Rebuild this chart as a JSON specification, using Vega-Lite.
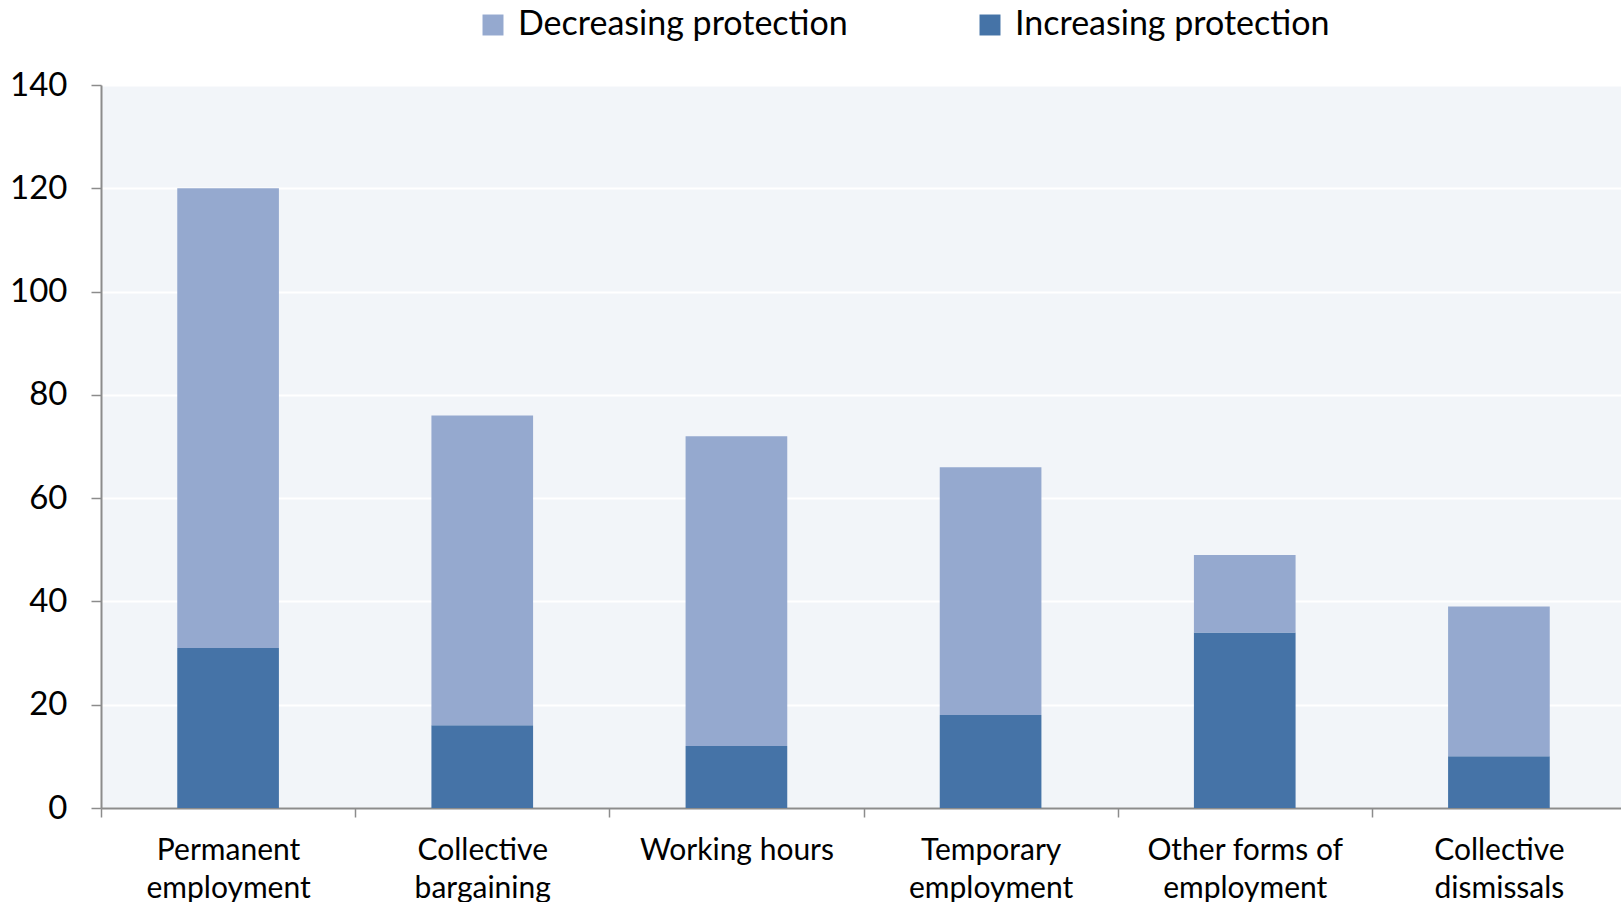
{
  "$schema": "https://vega.github.io/schema/vega-lite/v6.json",
  "autosize": {"type": "none"},
  "width": 1525,
  "height": 723,
  "padding": {"left": 101, "top": 85, "right": 0, "bottom": 94},
  "background": "white",
  "config": {
    "font": "Lato",
    "view": {"fill": "#F2F5F9", "stroke": null},
    "axis": {"labelFont": "Lato", "labelFontSize": 30, "labelColor": "#000000", "domainColor": "#8C8C8C", "domainWidth": 2, "tickColor": "#8C8C8C", "tickWidth": 1.5}
  },
  "data": {
    "values": [
      {"category": "Permanent employment", "series": "Increasing protection", "value": 31},
      {"category": "Permanent employment", "series": "Decreasing protection", "value": 89},
      {"category": "Collective bargaining", "series": "Increasing protection", "value": 16},
      {"category": "Collective bargaining", "series": "Decreasing protection", "value": 60},
      {"category": "Working hours", "series": "Increasing protection", "value": 12},
      {"category": "Working hours", "series": "Decreasing protection", "value": 60},
      {"category": "Temporary employment", "series": "Increasing protection", "value": 18},
      {"category": "Temporary employment", "series": "Decreasing protection", "value": 48},
      {"category": "Other forms of employment", "series": "Increasing protection", "value": 34},
      {"category": "Other forms of employment", "series": "Decreasing protection", "value": 15},
      {"category": "Collective dismissals", "series": "Increasing protection", "value": 10},
      {"category": "Collective dismissals", "series": "Decreasing protection", "value": 29}
    ]
  },
  "mark": {"type": "bar", "width": {"band": 0.4}},
  "encoding": {
    "x": {
      "field": "category",
      "type": "nominal",
      "sort": null,
      "scale": {"paddingInner": 0, "paddingOuter": 0},
      "axis": {
        "title": null,
        "labelAngle": 0,
        "tickBand": "extent",
        "tickSize": 9,
        "labelPadding": 18,
        "labelLineHeight": 38,
        "labelBaseline": "top",
        "labelLimit": 400,
        "labelExpr": "!isValid(datum.value) ? '' : datum.value == 'Other forms of employment' ? ['Other forms of', 'employment'] : datum.value == 'Working hours' ? 'Working hours' : split(datum.value, ' ')"
      }
    },
    "y": {
      "field": "value",
      "type": "quantitative",
      "stack": "zero",
      "scale": {"domain": [0, 140], "nice": false},
      "axis": {
        "title": null,
        "values": [0, 20, 40, 60, 80, 100, 120, 140],
        "tickSize": 10,
        "labelPadding": 24,
        "labelFontSize": 33,
        "grid": true,
        "gridColor": "#FFFFFF",
        "gridWidth": 2
      }
    },
    "color": {
      "field": "series",
      "type": "nominal",
      "scale": {"domain": ["Decreasing protection", "Increasing protection"], "range": ["#95A9CF", "#4573A7"]},
      "legend": {
        "title": null,
        "orient": "none",
        "direction": "horizontal",
        "legendX": 375,
        "legendY": -77,
        "symbolType": "square",
        "symbolSize": 440,
        "symbolStrokeWidth": 0,
        "labelFontSize": 34,
        "labelFont": "Lato",
        "labelColor": "#000000",
        "labelOffset": 8,
        "columnPadding": 125,
        "labelLimit": 500
      }
    },
    "order": {"field": "series", "sort": "descending"}
  }
}
